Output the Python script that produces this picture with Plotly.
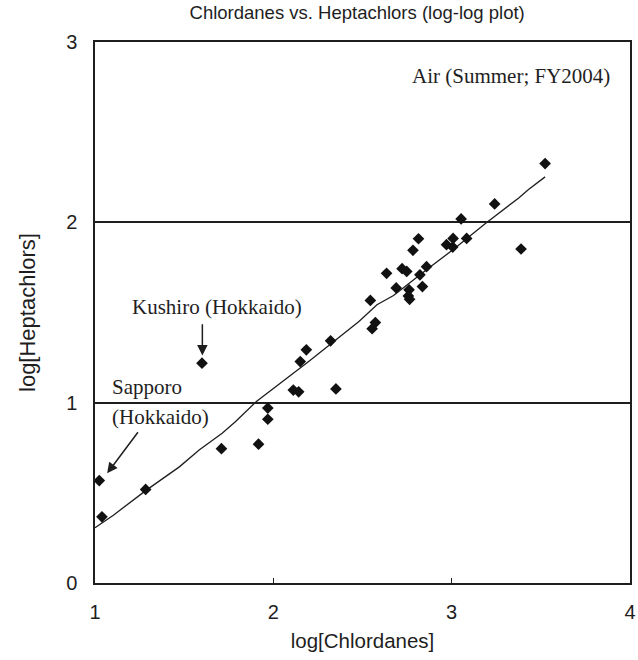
import plotly.graph_objects as go

# log concentrations at each monitoring site (air, summer FY2004)
chlordanes = [1.024, 1.039, 1.284, 1.600, 1.709, 1.917, 1.969, 1.969, 2.112, 2.142,
              2.151, 2.185, 2.321, 2.351, 2.544, 2.554, 2.572, 2.635, 2.689, 2.722,
              2.748, 2.761, 2.757, 2.764, 2.783, 2.814, 2.822, 2.836, 2.859, 2.971,
              3.006, 3.008, 3.053, 3.084, 3.241, 3.389, 3.524]
heptachlors = [0.568, 0.367, 0.519, 1.219, 0.745, 0.770, 0.970, 0.908, 1.070, 1.060,
               1.228, 1.293, 1.343, 1.076, 1.567, 1.410, 1.444, 1.717, 1.636, 1.743,
               1.728, 1.626, 1.592, 1.573, 1.845, 1.909, 1.709, 1.644, 1.754, 1.876,
               1.863, 1.911, 2.019, 1.911, 2.102, 1.852, 2.326]

# trend line through the data
trend_x = [1.0, 1.103, 1.288, 1.473, 1.584, 1.713, 1.787, 1.905, 2.20, 2.48,
           2.581, 2.674, 2.859, 3.007, 3.191, 3.376, 3.431, 3.524]
trend_y = [0.306, 0.376, 0.515, 0.644, 0.737, 0.830, 0.894, 1.006, 1.23, 1.450,
           1.543, 1.594, 1.737, 1.848, 1.995, 2.135, 2.182, 2.252]

x_ticks = [1, 2, 3, 4]
y_ticks = [0, 1, 2, 3]

INK = "#1e1e1e"
SANS = "Liberation Sans, Arial, sans-serif"
SERIF = "Liberation Serif, Times New Roman, serif"

fig = go.Figure()
fig.add_trace(go.Scatter(x=trend_x, y=trend_y, mode="lines",
                         line=dict(color=INK, width=1.3), hoverinfo="skip"))
fig.add_trace(go.Scatter(x=chlordanes, y=heptachlors, mode="markers",
                         marker=dict(symbol="diamond", size=9, color="#111111",
                                     line=dict(width=0))))

annotations = [
    dict(text="Air (Summer; FY2004)", x=3.901, y=2.81, xanchor="right", yanchor="middle"),
    dict(text="Kushiro (Hokkaido)", x=1.196, y=1.528, xanchor="left", yanchor="middle"),
    dict(text="Sapporo", x=1.085, y=1.089, xanchor="left", yanchor="middle"),
    dict(text="(Hokkaido)", x=1.085, y=0.921, xanchor="left", yanchor="middle"),
]
for a in annotations:
    a.update(xref="x", yref="y", showarrow=False,
             font=dict(family=SERIF, size=21, color=INK))

# pointer arrows to the two Hokkaido sites
arrows = [
    dict(x=1.602, y=1.262, ax=1.602, ay=1.443),
    dict(x=1.068, y=0.608, ax=1.247, ay=0.844),
]
for a in arrows:
    a.update(xref="x", yref="y", axref="x", ayref="y", text="", showarrow=True,
             arrowhead=2, arrowsize=1.4, arrowwidth=1.5, arrowcolor=INK)

fig.update_layout(
    width=638, height=660,
    margin=dict(l=95, r=2, t=42, b=77),
    paper_bgcolor="white", plot_bgcolor="white",
    showlegend=False,
    title=dict(text="Chlordanes vs. Heptachlors (log-log plot)",
               x=0.49, xanchor="center", y=0.981, yanchor="middle",
               xref="paper", yref="container",
               font=dict(family=SANS, size=18.5, color=INK)),
    annotations=annotations + arrows,
)
fig.update_xaxes(
    range=[1, 4], tickvals=x_ticks, ticktext=[str(v) for v in x_ticks],
    showgrid=False, zeroline=False,
    showline=True, mirror=True, linecolor=INK, linewidth=1.5,
    ticks="inside", ticklen=5, tickcolor=INK, tickwidth=1,
    ticklabelstandoff=10, ticklabeloverflow="allow",
    tickfont=dict(family=SANS, size=20, color=INK),
    title=dict(text="log[Chlordanes]", standoff=12,
               font=dict(family=SANS, size=20.5, color=INK)),
)
fig.update_yaxes(
    range=[0, 3], tickvals=y_ticks, ticktext=[str(v) for v in y_ticks],
    showgrid=True, gridcolor=INK, gridwidth=2, zeroline=False,
    showline=True, mirror=True, linecolor=INK, linewidth=1.5,
    ticks="inside", ticklen=5, tickcolor=INK, tickwidth=1,
    ticklabelstandoff=12,
    tickfont=dict(family=SANS, size=20, color=INK),
    title=dict(text="log[Heptachlors]", standoff=24,
               font=dict(family=SANS, size=22, color=INK)),
)

fig.write_html("out.html")
